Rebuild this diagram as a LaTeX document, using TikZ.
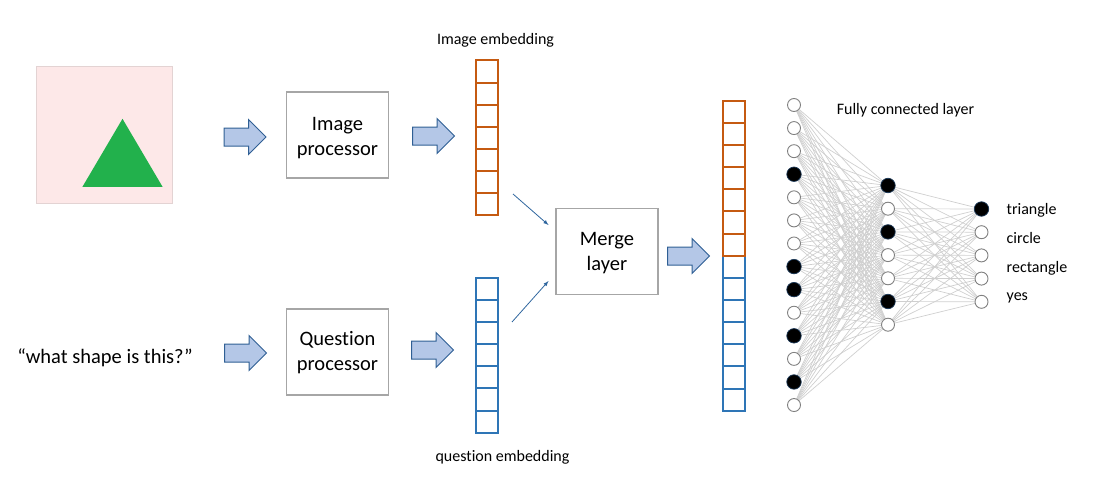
\documentclass[tikz,border=0pt]{standalone}
\usepackage{fontspec}
\setmainfont[Ligatures=NoCommon]{Carlito}
\usetikzlibrary{shapes.arrows,shapes.geometric,backgrounds}
\definecolor{arrowfill}{HTML}{B4C7E7}
\definecolor{arrowline}{HTML}{2F5F94}
\definecolor{boxline}{HTML}{A6A6A6}
\definecolor{orangecell}{HTML}{C55A11}
\definecolor{bluecell}{HTML}{2E75B6}
\definecolor{pinkbg}{HTML}{FDE8E8}
\definecolor{pinkline}{HTML}{E3D3D3}
\definecolor{greentri}{HTML}{22B14C}
\definecolor{edgegray}{HTML}{CFCFCF}
\newcommand{\topstrut}[1]{\rule{0pt}{#1pt}}
\tikzset{
  blockarrow/.style={single arrow,draw=arrowline,fill=arrowfill,line width=1pt,inner xsep=0pt,inner ysep=8.5pt,
    minimum height=42pt,single arrow head extend=8.5pt,single arrow tip angle=90,anchor=tail},
  procbox/.style={draw=boxline,line width=1.8pt,minimum width=102pt,minimum height=86pt,
    align=center,font=\fontsize{20.5}{25}\selectfont},
  orangebox/.style={draw=orangecell,line width=2pt,minimum width=22pt,minimum height=22.1pt,inner sep=0pt},
  bluebox/.style={draw=bluecell,line width=2pt,minimum width=22pt,minimum height=22.1pt,inner sep=0pt},
  neuron/.style={circle,draw=black!50,fill=white,line width=0.9pt,minimum size=13pt,inner sep=0pt},
  blackneuron/.style={circle,draw=arrowline!60!black,fill=black,line width=0.7pt,minimum size=14.5pt,inner sep=0pt},
  smalltext/.style={font=\fontsize{16}{19}\selectfont,inner sep=0pt},
  thinarrow/.style={-latex,draw=arrowline!70!bluecell,line width=0.8pt}
}
\begin{document}
\begin{tikzpicture}[x=1pt,y=-1pt]
  \useasboundingbox (0,0) rectangle (1100,495);

  % input picture
  \node[rectangle,draw=pinkline,fill=pinkbg,line width=1pt,minimum width=136pt,minimum height=137pt,inner sep=0pt] (picture) at (104.5,135) {};
  \node[isosceles triangle,isosceles triangle apex angle=61,shape border rotate=90,fill=greentri,
    minimum height=68pt,inner sep=0pt,anchor=lower side] (shape) at (122.5,187) {};
  \node[font=\fontsize{20.5}{24}\selectfont,inner sep=0pt] (question) at (105,358) {“what shape is this?”};

  % processors
  \node[procbox] (imageproc) at (337.5,135) {\topstrut{19.5}Image\\processor};
  \node[procbox] (questionproc) at (337.5,352) {\topstrut{16}Question\\processor};
  \node[procbox] (merge) at (607,251.5) {\topstrut{16}Merge\\layer};

  \node[blockarrow] (arrowa) at (223.5,137) {};
  \node[blockarrow] (arrowb) at (412,136) {};
  \node[blockarrow] (arrowc) at (224,353) {};
  \node[blockarrow] (arrowd) at (411,350) {};
  \node[blockarrow] (arrowe) at (667,256) {};

  % embeddings
  \foreach \i in {1,...,7}{
      \pgfmathsetmacro{\ya}{71.5+(\i-1)*22.1}
      \pgfmathsetmacro{\yb}{289+(\i-1)*22.1}
      \pgfmathsetmacro{\yc}{112+(\i-1)*22.1}
      \pgfmathsetmacro{\yd}{267+(\i-1)*22.1}
      \node[orangebox] (imagecell\i) at (486.5,\ya) {};
      \node[bluebox] (questioncell\i) at (486.5,\yb) {};
      \node[orangebox] (mergecella\i) at (733.5,\yc) {};
      \node[bluebox] (mergecellb\i) at (733.5,\yd) {};
  }
  \node[smalltext] (imagelabel) at (495.5,40) {Image embedding};
  \node[smalltext] (questionlabel) at (502.5,457) {question embedding};

  \coordinate (imagefrom) at (513,194);
  \coordinate (imageto) at (548.5,225);
  \coordinate (questionfrom) at (512,322);
  \coordinate (questionto) at (548.5,281);
  \draw[thinarrow] (imagefrom) -- (imageto);
  \draw[thinarrow] (questionfrom) -- (questionto);

  % fully connected layers
  \foreach \i in {1,...,14}{
      \pgfmathsetmacro{\y}{105+(\i-1)*23.08}
      \node[neuron] (first\i) at (794,\y) {};
  }
  \foreach \i in {4,8,9,11,13}{
      \pgfmathsetmacro{\y}{105+(\i-1)*23.08}
      \node[blackneuron] at (794,\y) {};
  }
  \foreach \i in {1,...,7}{
      \pgfmathsetmacro{\y}{185.5+(\i-1)*23.2}
      \node[neuron] (second\i) at (888,\y) {};
  }
  \foreach \i in {1,3,6}{
      \pgfmathsetmacro{\y}{185.5+(\i-1)*23.2}
      \node[blackneuron] at (888,\y) {};
  }
  \foreach \i in {1,...,5}{
      \pgfmathsetmacro{\y}{209+(\i-1)*23.2}
      \node[neuron] (third\i) at (981.5,\y) {};
  }
  \node[blackneuron] at (981.5,209) {};

  \begin{pgfonlayer}{background}
    \foreach \a in {1,...,14}{
        \foreach \b in {1,...,7}{
            \draw[edgegray,line width=0.7pt] (first\a) -- (second\b);
        }
    }
    \foreach \b in {1,...,7}{
        \foreach \c in {1,...,5}{
            \draw[edgegray,line width=0.7pt] (second\b) -- (third\c);
        }
    }
  \end{pgfonlayer}

  \node[smalltext,anchor=base] (fclabel) at (905.5,114) {Fully connected layer};
  \node[smalltext,anchor=base west] (triangle) at (1006.5,214) {triangle};
  \node[smalltext,anchor=base west] (circle) at (1006.5,243) {circle};
  \node[smalltext,anchor=base west] (rectangle) at (1006.5,272) {rectangle};
  \node[smalltext,anchor=base west] (yes) at (1006.5,300.5) {yes};
\end{tikzpicture}
\end{document}
